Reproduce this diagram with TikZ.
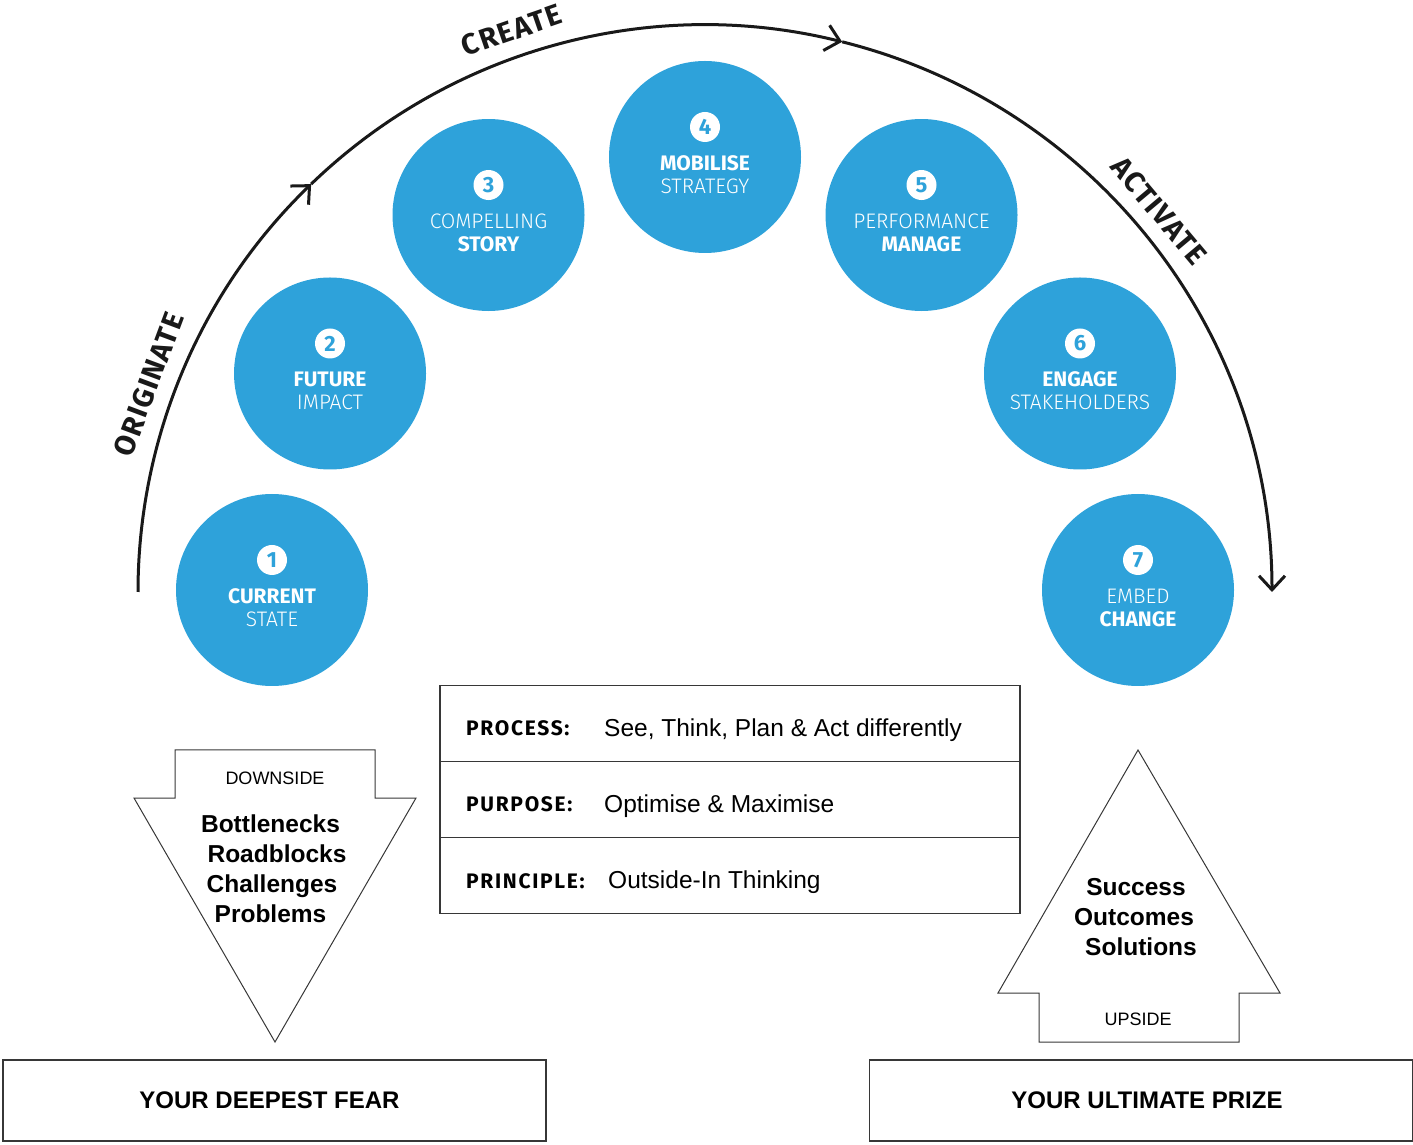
\documentclass[tikz,border=0pt]{standalone}
\usepackage{fontspec}
\setmainfont{Liberation Sans}
\newfontfamily\dinfont{Fira Sans}
\newfontfamily\dinlight{Fira Sans Light}
\newfontfamily\arcfont[LetterSpace=5]{Fira Sans}
\newfontfamily\keyfont[LetterSpace=8]{Fira Sans}
\usetikzlibrary{positioning}
\usetikzlibrary{calc}
\usetikzlibrary{arrows.meta}
\definecolor{stageblue}{RGB}{46,162,218}
\definecolor{edgegrey}{RGB}{55,55,55}
\newcommand\heavy[1]{{\dinfont\bfseries #1}}
\newcommand\lite[1]{{\dinlight #1}}

\begin{document}
\begin{tikzpicture}[x=1pt,y=1pt]
  \tikzstyle{stage}=[circle, fill = stageblue, minimum size = 192, inner sep = 0pt]
  \tikzstyle{badge}=[circle, fill = white, minimum size = 30, inner sep = 0pt, text = stageblue, font = \dinfont\bfseries\fontsize{22}{22}\selectfont]
  \tikzstyle{stagetext}=[text = white, align = center, inner sep = 0pt, font = \fontsize{21}{23}\selectfont]
  \tikzstyle{arc}=[line width = 3pt, black!90, -{Straight Barb[length = 14pt, width = 26pt]}]
  \tikzstyle{arclabel}=[text = black!90, font = \arcfont\bfseries\fontsize{29}{29}\selectfont]
  \tikzstyle{tablerow}=[rectangle, draw = edgegrey, line width = 1.5pt, outer sep = 0pt, minimum width = 580, minimum height = 76, inner sep = 0pt]
  \tikzstyle{rowkey}=[anchor = base west, inner sep = 0pt, font = \keyfont\bfseries\fontsize{21}{21}\selectfont]
  \tikzstyle{rowvalue}=[anchor = base west, inner sep = 0pt, font = \fontsize{24.5}{24.5}\selectfont]
  \tikzstyle{sign}=[draw = edgegrey, line width = 1pt, line join = miter]
  \tikzstyle{signword}=[font = \fontsize{18}{18}\selectfont]
  \tikzstyle{signlist}=[align = center, font = \bfseries\fontsize{24.5}{30}\selectfont]
  \tikzstyle{banner}=[rectangle, draw = edgegrey, line width = 1.5pt, minimum width = 543, minimum height = 81, font = \bfseries\fontsize{24}{24}\selectfont]

  \useasboundingbox (0,0) rectangle (1413,1144);

  % the seven stages
  \coordinate (hub) at (705,554);
  \foreach \n/\ang/\first/\second in {1/180/\heavy{CURRENT}/\lite{STATE},
      2/150/\heavy{FUTURE}/\lite{IMPACT}, 3/120/\lite{COMPELLING}/\heavy{STORY},
      4/90/\heavy{MOBILISE}/\lite{STRATEGY}, 5/60/\lite{PERFORMANCE}/\heavy{MANAGE},
      6/30/\heavy{ENGAGE}/\lite{STAKEHOLDERS}, 7/0/\lite{EMBED}/\heavy{CHANGE}} {
    \node[stage] (s\n) at ($(hub)+(\ang:433)$) {};
    \node[badge] (b\n) at ($(s\n)+(0,30)$) {\n};
    \node[stagetext] (t\n) at ($(s\n)+(0,-17.5)$) {\first\\\second};
  }

  % the arc
  \coordinate (centre) at (705,552);
  \coordinate (a0) at ($(centre)+(180:567)$);
  \draw[arc] (a0) arc[start angle = 180, end angle = 134, radius = 567] coordinate (a1);
  \draw[arc] (a1) arc[start angle = 134, end angle = 76, radius = 567] coordinate (a2);
  \draw[arc] (a2) arc[start angle = 76, end angle = 0, radius = 567] coordinate (a3);

  \node[arclabel, rotate = 69.5] (originate) at ($(centre)+(159.5:594)$) {ORIGINATE};
  \node[arclabel, rotate = 19] (create) at ($(centre)+(109:594)$) {CREATE};
  \node[arclabel, rotate = -50] (activate) at ($(centre)+(40:593)$) {ACTIVATE};

  % the table
  \node[tablerow] (process) at (730,420.5) {};
  \node[tablerow] (purpose) [below = 0pt of process] {};
  \node[tablerow] (principle) [below = 0pt of purpose] {};

  \node[rowkey] at ($(process.west)+(26,-12)$) {PROCESS:};
  \node[rowvalue] at ($(process.west)+(164,-13)$) {See, Think, Plan \& Act differently};
  \node[rowkey] at ($(purpose.west)+(26,-12)$) {PURPOSE:};
  \node[rowvalue] at ($(purpose.west)+(164,-12.5)$) {Optimise \& Maximise};
  \node[rowkey] at ($(principle.west)+(26,-12.5)$) {PRINCIPLE:};
  \node[rowvalue] at ($(principle.west)+(168,-12.5)$) {Outside-In Thinking};

  % downside arrow
  \draw[sign] (175,394) -- (375,394) -- (375,346) -- (416,346) -- (275,102)
    -- (134,346) -- (175,346) -- cycle;
  \node[signword] (downside) at (275,366) {DOWNSIDE};
  \node[signlist] (fears) at (270.5,275) {Bottlenecks\\\hspace*{13pt}Roadblocks\\\hspace*{3pt}Challenges\\Problems};

  % upside arrow
  \draw[sign] (1138,394) -- (1280,151) -- (1239,151) -- (1239,102) -- (1039,102)
    -- (1039,151) -- (998,151) -- cycle;
  \node[signword] (upside) at (1138,125) {UPSIDE};
  \node[signlist] (gains) at (1134,227) {\hspace*{4pt}Success\\Outcomes\\\hspace*{14pt}Solutions};

  % banners
  \node[banner] (fear) at (274.5,43.5) {YOUR DEEPEST FEAR\hspace*{10pt}};
  \node[banner] (prize) at (1141,43.5) {\hspace*{12pt}YOUR ULTIMATE PRIZE};

\end{tikzpicture}
\end{document}
